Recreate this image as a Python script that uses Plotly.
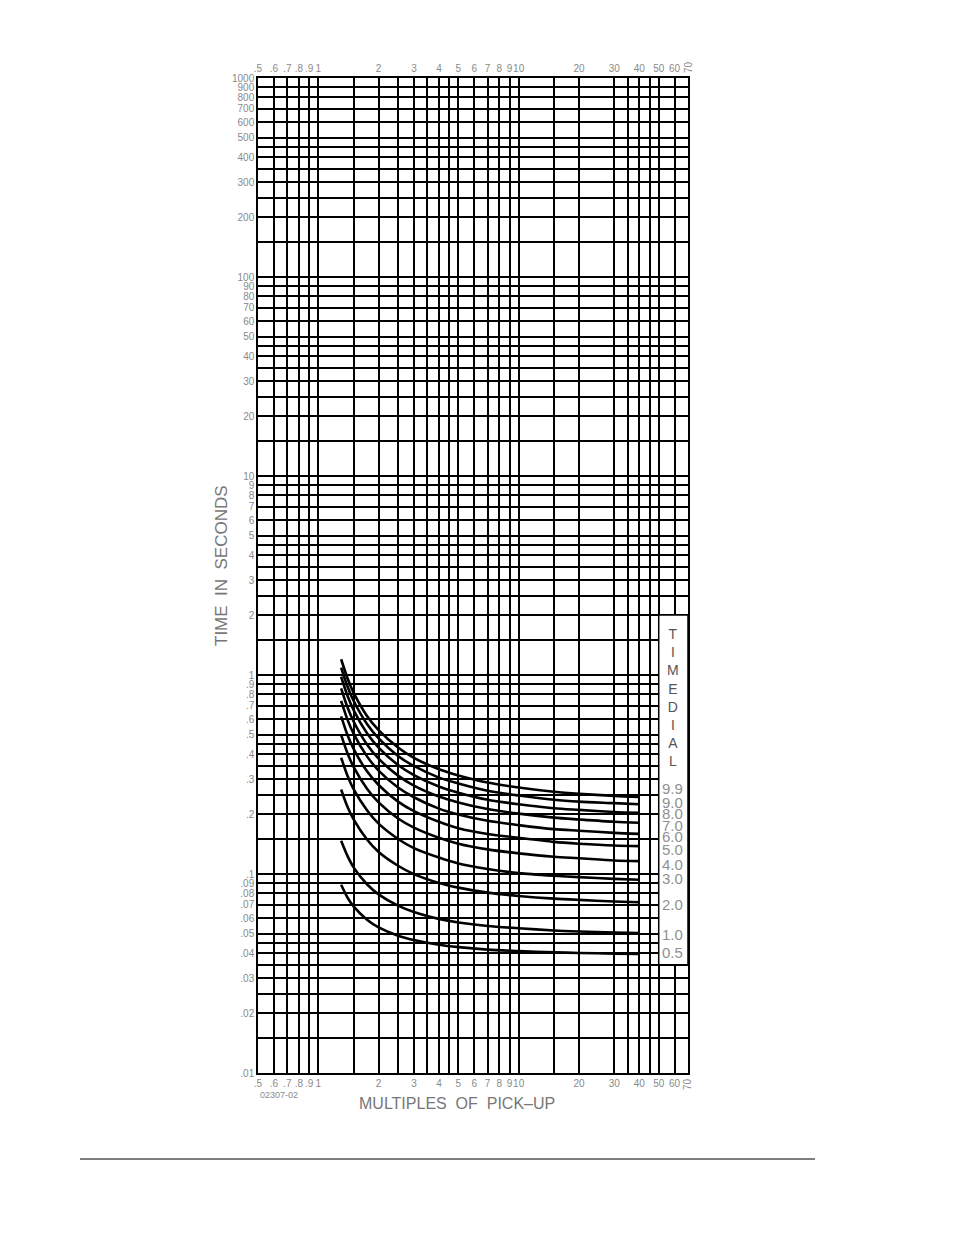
import math
import plotly.graph_objects as go

multiples = [1.3, 1.4, 1.5, 1.75, 2, 2.5, 3, 4, 5, 7, 10, 15, 20, 30, 40]

# Time (seconds) per time-dial setting
t_99 = [1.20, 0.960, 0.815, 0.622, 0.528, 0.432, 0.383, 0.336, 0.313, 0.288, 0.272, 0.259, 0.253, 0.247, 0.244]
t_90 = [1.09, 0.873, 0.742, 0.567, 0.480, 0.392, 0.349, 0.305, 0.285, 0.262, 0.248, 0.236, 0.231, 0.227, 0.224]
t_80 = [0.980, 0.784, 0.666, 0.510, 0.432, 0.353, 0.314, 0.275, 0.256, 0.236, 0.224, 0.214, 0.210, 0.205, 0.203]
t_70 = [0.857, 0.686, 0.584, 0.448, 0.380, 0.312, 0.278, 0.245, 0.229, 0.212, 0.201, 0.192, 0.188, 0.183, 0.181]
t_60 = [0.742, 0.595, 0.507, 0.390, 0.331, 0.272, 0.243, 0.213, 0.199, 0.185, 0.176, 0.168, 0.165, 0.161, 0.159]
t_50 = [0.620, 0.498, 0.425, 0.328, 0.280, 0.231, 0.207, 0.183, 0.170, 0.159, 0.152, 0.145, 0.142, 0.139, 0.138]
t_40 = [0.500, 0.403, 0.345, 0.268, 0.229, 0.190, 0.171, 0.152, 0.142, 0.133, 0.127, 0.122, 0.120, 0.117, 0.116]
t_30 = [0.384, 0.311, 0.267, 0.209, 0.179, 0.150, 0.135, 0.121, 0.113, 0.106, 0.101, 0.098, 0.0965, 0.0945, 0.0935]
t_20 = [0.266, 0.217, 0.188, 0.149, 0.129, 0.110, 0.0998, 0.0901, 0.0854, 0.0806, 0.0776, 0.0752, 0.0741, 0.0728, 0.0721]
t_10 = [0.147, 0.123, 0.108, 0.0888, 0.079, 0.0693, 0.0644, 0.0595, 0.0571, 0.0548, 0.0534, 0.0520, 0.0514, 0.0508, 0.0505]
t_05 = [0.0883, 0.0760, 0.0687, 0.0589, 0.0539, 0.0490, 0.0466, 0.0441, 0.0429, 0.0417, 0.0410, 0.0404, 0.0401, 0.0398, 0.0396]

dial_labels = ["9.9", "9.0", "8.0", "7.0", "6.0", "5.0", "4.0", "3.0", "2.0", "1.0", "0.5"]
curves = [t_99, t_90, t_80, t_70, t_60, t_50, t_40, t_30, t_20, t_10, t_05]
label_shift = [8, 2, -1, -3, -3, -3, -3, 1, -2, -1, 2]

# grid / tick values
x_grid = [0.5, 0.6, 0.7, 0.8, 0.9, 1, 1.5, 2, 2.5, 3, 3.5, 4, 4.5, 5, 6, 7, 8, 9,
          10, 15, 20, 30, 35, 40, 45, 50, 60, 70]
x_text = [".5", ".6", ".7", ".8", ".9", "1", "", "2", "", "3", "", "4", "", "5", "6", "7", "8", "9",
          "10", "", "20", "30", "", "40", "", "50", "60", ""]

y_mults = [1, 1.5, 2, 2.5, 3, 3.5, 4, 4.5, 5, 6, 7, 8, 9]
y_grid = []
y_text = []
for e in range(-2, 3):
    for m in y_mults:
        v = m * 10 ** e
        y_grid.append(v)
        if m != int(m):
            y_text.append("")
        elif e < 0:
            y_text.append(("%g" % v).lstrip("0"))
        else:
            y_text.append("%g" % v)
y_grid.append(1000)
y_text.append("1000")

GRAY = "#8a8a8a"
tick_font = dict(family="Liberation Sans", size=10, color=GRAY)

fig = go.Figure()

for vals in curves:
    fig.add_trace(go.Scatter(
        x=multiples, y=vals, mode="lines",
        line=dict(color="black", width=2.6, shape="spline", smoothing=0.8),
        showlegend=False, hoverinfo="skip"
    ))

# dummy trace so the top axis gets drawn
fig.add_trace(go.Scatter(x=[1], y=[1], xaxis="x2", mode="markers",
                         marker=dict(opacity=0), showlegend=False, hoverinfo="skip"))

axis_common = dict(type="log", showline=True, linecolor="black", linewidth=1.5,
                   gridcolor="black", gridwidth=1.5, ticks="", zeroline=False,
                   tickfont=tick_font, tickangle=0)

# page body adds an 8px offset, so the figure is 16px smaller than the window
fig.update_layout(
    width=938, height=1219,
    margin=dict(l=250, r=258, t=70, b=154),
    paper_bgcolor="white", plot_bgcolor="white",
    xaxis=dict(range=[math.log10(0.5), math.log10(70)], tickvals=x_grid, ticktext=x_text,
               mirror=True, **axis_common),
    xaxis2=dict(range=[math.log10(0.5), math.log10(70)], tickvals=x_grid, ticktext=x_text,
                overlaying="x", side="top", showgrid=False, matches="x", **axis_common),
    yaxis=dict(range=[-2, 3], tickvals=y_grid, ticktext=y_text, mirror=True, **axis_common),
)

# white panel holding the time dial legend
fig.add_shape(type="rect", x0=50, x1=70, y0=0.035, y1=2, xref="x", yref="y",
              fillcolor="white", line=dict(color="black", width=1.5), layer="above")

annotations = []
annotations.append(dict(text="T<br>I<br>M<br>E<br>D<br>I<br>A<br>L", xref="paper", yref="paper",
                        x=0.965, y=(1073 - 624) / 995, xanchor="center", yanchor="top",
                        showarrow=False, align="center",
                        font=dict(family="Liberation Sans", size=14, color="#555555")))
for lab, vals, sh in zip(dial_labels, curves, label_shift):
    annotations.append(dict(text=lab, xref="paper", yref="y", x=0.965,
                            y=math.log10(vals[-1]), yshift=sh, xanchor="center",
                            yanchor="middle", showarrow=False,
                            font=dict(family="Liberation Sans", size=15, color="#909090")))

# rotated 70 labels at top and bottom
for yy in [1.011, -0.011]:
    annotations.append(dict(text="70", xref="paper", yref="paper", x=1.0, y=yy,
                            textangle=-90, showarrow=False, xanchor="center", yanchor="middle",
                            font=tick_font))

annotations.append(dict(text="TIME  IN  SECONDS", xref="paper", yref="paper",
                        x=(221 - 258) / 430, y=(1073 - 566) / 995, textangle=-90,
                        showarrow=False, xanchor="center", yanchor="middle",
                        font=dict(family="Liberation Sans", size=17, color="#777777")))
annotations.append(dict(text="MULTIPLES  OF  PICK\u2013UP", xref="paper", yref="paper",
                        x=(457 - 258) / 430, y=(1073 - 1103) / 995,
                        showarrow=False, xanchor="center", yanchor="middle",
                        font=dict(family="Liberation Sans", size=16, color="#777777")))
annotations.append(dict(text="02307-02", xref="paper", yref="paper",
                        x=0.0, y=(1073 - 1095) / 995, showarrow=False,
                        xanchor="left", yanchor="middle",
                        font=dict(family="Liberation Sans", size=9, color=GRAY)))
fig.update_layout(annotations=annotations)

# rule at the bottom of the page
fig.add_shape(type="line", xref="paper", yref="paper",
              x0=(80 - 258) / 430, x1=(815 - 258) / 430,
              y0=(1073 - 1159) / 995, y1=(1073 - 1159) / 995,
              line=dict(color="black", width=1))

fig.write_html("out.html")
